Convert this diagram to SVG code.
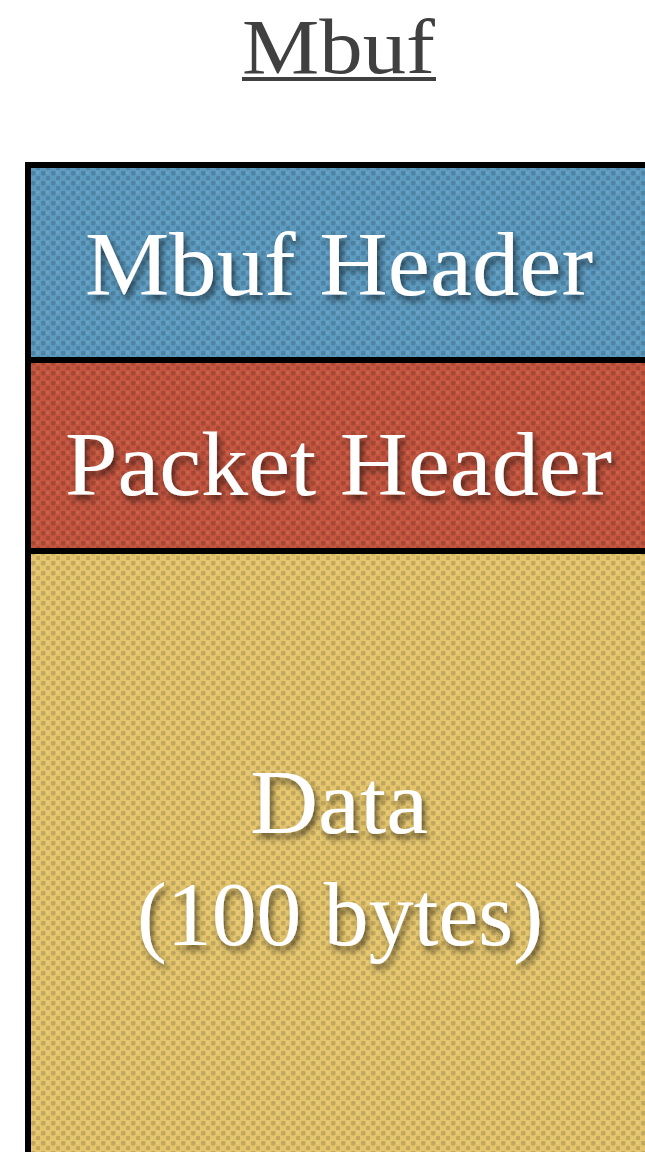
<svg xmlns="http://www.w3.org/2000/svg" width="645" height="1152" viewBox="0 0 645 1152">
  <style>
    .title { font-family: "Palatino Linotype", "Book Antiqua", "Liberation Serif", "DejaVu Serif", serif; font-size: 78px; fill: #404040; }
    .label { font-family: "Palatino Linotype", "Book Antiqua", "Liberation Serif", "DejaVu Serif", serif; font-size: 90px; fill: #ffffff; text-anchor: middle; filter: url(#shadow); }
    .sep { stroke: #000; stroke-width: 6; }
  </style>
  <defs>
    <!-- woven dot texture laid over each fill -->
    <pattern id="weave" width="10" height="10" patternUnits="userSpaceOnUse">
      <rect x="1" y="1" width="4.5" height="4.5" rx="1.4" fill="#000" opacity="0.15"/>
      <rect x="6" y="6" width="4.5" height="4.5" rx="1.4" fill="#000" opacity="0.15"/>
      <rect x="6" y="1" width="3" height="3" rx="1" fill="#fff" opacity="0.08"/>
    </pattern>
    <filter id="shadow" x="-10%" y="-20%" width="120%" height="150%">
      <feDropShadow dx="3" dy="5" stdDeviation="3" flood-color="#000" flood-opacity="0.55"/>
    </filter>
  </defs>

  <rect width="645" height="1152" fill="#ffffff"/>

  <g id="title">
    <text class="title" x="242" y="73" textLength="193" lengthAdjust="spacingAndGlyphs">Mbuf</text>
    <rect x="242" y="77" width="194" height="4" fill="#404040"/>
  </g>

  <g id="mbuf-header">
    <rect x="28" y="165" width="620" height="194" fill="#5c9abf"/>
    <rect x="28" y="165" width="620" height="194" fill="url(#weave)"/>
    <text class="label" x="339" y="295" textLength="508" lengthAdjust="spacingAndGlyphs">Mbuf Header</text>
  </g>

  <g id="packet-header">
    <rect x="28" y="359" width="620" height="192" fill="#c4553f"/>
    <rect x="28" y="359" width="620" height="192" fill="url(#weave)"/>
    <text class="label" x="338.5" y="495" textLength="547" lengthAdjust="spacingAndGlyphs">Packet Header</text>
  </g>

  <g id="data">
    <rect x="28" y="551" width="620" height="610" fill="#e4c56d"/>
    <rect x="28" y="551" width="620" height="610" fill="url(#weave)"/>
    <text class="label" x="339" y="833" textLength="178" lengthAdjust="spacingAndGlyphs">Data</text>
    <text class="label" x="340" y="945" textLength="406" lengthAdjust="spacingAndGlyphs">(100 bytes)</text>
  </g>

  <g id="connectors">
    <!-- outer frame and section dividers -->
    <line class="sep" x1="25" y1="165" x2="648" y2="165"/>
    <line class="sep" x1="28" y1="162" x2="28" y2="1160"/>
    <line class="sep" x1="25" y1="360" x2="648" y2="360"/>
    <line class="sep" x1="25" y1="551" x2="648" y2="551"/>
  </g>
</svg>
